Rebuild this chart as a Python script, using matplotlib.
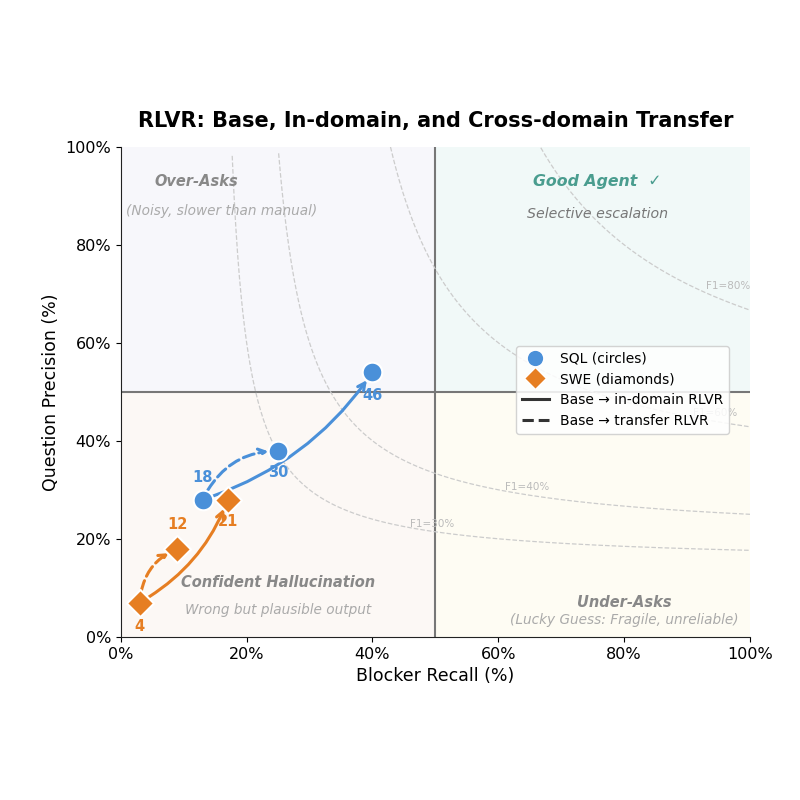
import numpy as np
import matplotlib
matplotlib.use("Agg")
import matplotlib.pyplot as plt
from matplotlib.lines import Line2D

# ---- data ----
sql_recall = [13, 25, 40]        # base, transfer, in-domain
sql_precision = [28, 38, 54]
sql_f1_labels = ["18", "30", "46"]

swe_recall = [3, 9, 17]          # base, transfer, in-domain
swe_precision = [7, 18, 28]
swe_f1_labels = ["4", "12", "21"]

f1_levels = [30, 40, 60, 80]
f1_label_pos = [(49.5, 23.0), (64.5, 30.6), (94.5, 45.7), (96.5, 71.6)]

x_ticks = [0, 20, 40, 60, 80, 100]
y_ticks = [0, 20, 40, 60, 80, 100]

SQL_C = "#4a90d9"
SWE_C = "#e67e22"

fig = plt.figure(figsize=(8, 8), dpi=100)
ax = fig.add_axes([0.151, 0.204, 0.7865, 0.6125])
ax.set_xlim(0, 100)
ax.set_ylim(0, 100)

# quadrant backgrounds
ax.axvspan(0, 50, ymin=0.5, ymax=1, color="#f7f7fb", zorder=0, lw=0)
ax.axvspan(50, 100, ymin=0.5, ymax=1, color="#f1f9f8", zorder=0, lw=0)
ax.axvspan(0, 50, ymin=0, ymax=0.5, color="#fcf8f5", zorder=0, lw=0)
ax.axvspan(50, 100, ymin=0, ymax=0.5, color="#fefcf3", zorder=0, lw=0)

ax.axvline(50, color="#777777", lw=1.5, zorder=1)
ax.axhline(50, color="#777777", lw=1.5, zorder=1)

# F1 contours
for f, (lx, ly) in zip(f1_levels, f1_label_pos):
    ff = f / 100.0
    r = np.linspace(ff / 2 + 1e-4, 1.0, 600)
    p = ff * r / (2 * r - ff)
    m = p <= 1.0
    ax.plot(r[m] * 100, p[m] * 100, ls="--", color="#cccccc", lw=0.9, zorder=1.5)
    ax.text(lx, ly, f"F1={f}%", fontsize=7.5, color="#bbbbbb", ha="center", va="center", zorder=1.5)

# quadrant labels
ax.text(12, 93, "Over-Asks", fontsize=10.5, fontweight="bold", style="italic", color="#888888", ha="center", va="center")
ax.text(16, 87, "(Noisy, slower than manual)", fontsize=9.8, style="italic", color="#aaaaaa", ha="center", va="center")
ax.text(75.8, 93, "Good Agent  \u2713", fontsize=11.3, fontweight="bold", style="italic", color="#4a9d8f", ha="center", va="center")
ax.text(75.8, 86.3, "Selective escalation", fontsize=10.2, style="italic", color="#777777", ha="center", va="center")
ax.text(25, 11, "Confident Hallucination", fontsize=10.5, fontweight="bold", style="italic", color="#888888", ha="center", va="center")
ax.text(25, 5.5, "Wrong but plausible output", fontsize=9.8, style="italic", color="#aaaaaa", ha="center", va="center")
ax.text(80, 7, "Under-Asks", fontsize=10.5, fontweight="bold", style="italic", color="#888888", ha="center", va="center")
ax.text(80, 3.5, "(Lucky Guess: Fragile, unreliable)", fontsize=9.8, style="italic", color="#aaaaaa", ha="center", va="center")

# arrows
def arrow(x0, y0, x1, y1, color, ls, rad):
    ax.annotate("", xy=(x1, y1), xytext=(x0, y0),
                arrowprops=dict(arrowstyle="->", color=color, lw=2.2, ls=ls,
                                shrinkA=8, shrinkB=7, mutation_scale=13,
                                connectionstyle=f"arc3,rad={rad}"), zorder=3)

arrow(sql_recall[0], sql_precision[0], sql_recall[2], sql_precision[2], SQL_C, "-", 0.17)
arrow(sql_recall[0], sql_precision[0], sql_recall[1], sql_precision[1], SQL_C, "--", -0.3)
arrow(swe_recall[0], swe_precision[0], swe_recall[2], swe_precision[2], SWE_C, "-", 0.18)
arrow(swe_recall[0], swe_precision[0], swe_recall[1], swe_precision[1], SWE_C, "--", -0.3)

# points
ax.scatter(sql_recall, sql_precision, s=200, marker="o", color=SQL_C, edgecolor="white", lw=1.5, zorder=4)
ax.scatter(swe_recall, swe_precision, s=190, marker="D", color=SWE_C, edgecolor="white", lw=1.5, zorder=4)

sql_off = [(0, 16), (0, -16), (0, -16.5)]
swe_off = [(0, -17), (0, 17), (0, -16)]
for x, y, t, o in zip(sql_recall, sql_precision, sql_f1_labels, sql_off):
    ax.annotate(t, (x, y), xytext=o, textcoords="offset points", ha="center", va="center",
                fontsize=10.5, fontweight="bold", color=SQL_C, zorder=5)
for x, y, t, o in zip(swe_recall, swe_precision, swe_f1_labels, swe_off):
    ax.annotate(t, (x, y), xytext=o, textcoords="offset points", ha="center", va="center",
                fontsize=10.5, fontweight="bold", color=SWE_C, zorder=5)

# axes
ax.set_xticks(x_ticks)
ax.set_yticks(y_ticks)
ax.set_xticklabels([f"{v}%" for v in x_ticks], fontsize=11.5)
ax.set_yticklabels([f"{v}%" for v in y_ticks], fontsize=11.5)
ax.set_xlabel("Blocker Recall (%)", fontsize=12.5)
ax.set_ylabel("Question Precision (%)", fontsize=12.5)
ax.set_title("RLVR: Base, In-domain, and Cross-domain Transfer", fontsize=15, fontweight="bold", pad=14)
for s in ["top", "right"]:
    ax.spines[s].set_visible(False)
ax.spines["left"].set_color("#222222")
ax.spines["bottom"].set_color("#222222")

handles = [
    Line2D([], [], marker="o", ls="", color=SQL_C, markeredgecolor="white", markersize=12, label="SQL (circles)"),
    Line2D([], [], marker="D", ls="", color=SWE_C, markeredgecolor="white", markersize=11, label="SWE (diamonds)"),
    Line2D([], [], color="#333333", lw=2.2, ls="-", label="Base \u2192 in-domain RLVR"),
    Line2D([], [], color="#333333", lw=2.2, ls="--", label="Base \u2192 transfer RLVR"),
]
ax.legend(handles=handles, loc="upper left", bbox_to_anchor=(0.617, 0.608), fontsize=10, framealpha=0.85)

fig.savefig("out.png", dpi=100)
